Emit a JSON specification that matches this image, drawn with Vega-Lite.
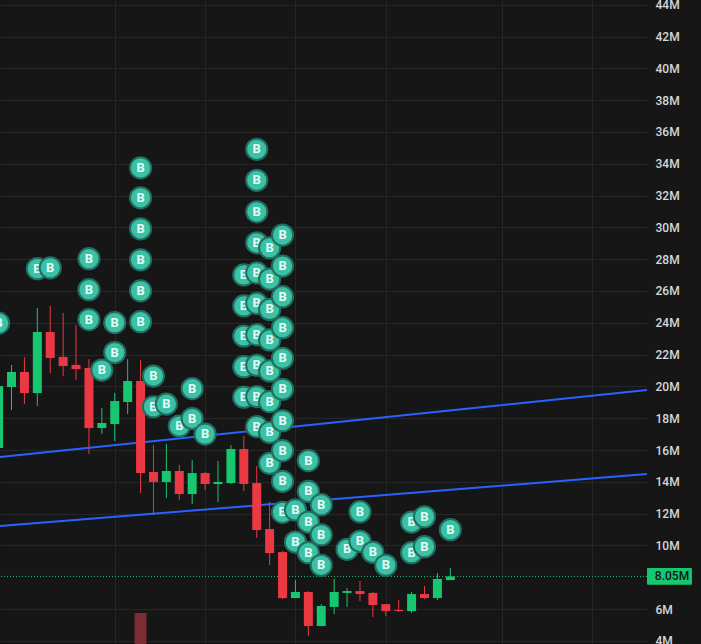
{"$schema":"https://vega.github.io/schema/vega-lite/v6.json","width":647,"height":644,"autosize":{"type":"none"},"padding":{"left":0,"top":0,"right":54,"bottom":0},"background":"#161616","view":{"stroke":null,"fill":"#161616"},"datasets":{"candles":[{"i":0,"o":16.13,"h":21.35,"l":16.0,"c":20.02},{"i":1,"o":19.96,"h":21.35,"l":18.51,"c":20.91},{"i":2,"o":20.91,"h":21.85,"l":18.89,"c":19.58},{"i":3,"o":19.58,"h":24.93,"l":18.77,"c":23.42},{"i":4,"o":23.42,"h":25.06,"l":20.84,"c":21.79},{"i":5,"o":21.85,"h":24.62,"l":20.65,"c":21.28},{"i":6,"o":21.35,"h":23.86,"l":20.4,"c":21.09},{"i":7,"o":21.16,"h":21.72,"l":15.75,"c":17.38},{"i":8,"o":17.38,"h":18.64,"l":17.01,"c":17.7},{"i":9,"o":17.63,"h":19.58,"l":16.57,"c":19.08},{"i":10,"o":19.02,"h":21.72,"l":18.26,"c":20.34},{"i":11,"o":20.34,"h":21.66,"l":13.3,"c":14.55},{"i":12,"o":14.62,"h":16.31,"l":11.91,"c":13.99},{"i":13,"o":13.99,"h":16.38,"l":12.98,"c":14.68},{"i":14,"o":14.68,"h":15.06,"l":12.86,"c":13.23},{"i":15,"o":13.23,"h":15.37,"l":12.6,"c":14.55},{"i":16,"o":14.55,"h":14.62,"l":13.48,"c":13.86},{"i":17,"o":13.86,"h":15.31,"l":12.73,"c":13.99},{"i":18,"o":13.92,"h":16.31,"l":13.86,"c":16.06},{"i":19,"o":16.06,"h":16.88,"l":13.42,"c":13.86},{"i":20,"o":13.92,"h":14.99,"l":10.47,"c":10.97},{"i":21,"o":11.03,"h":12.73,"l":8.77,"c":9.52},{"i":22,"o":9.58,"h":9.65,"l":6.63,"c":6.69},{"i":23,"o":6.69,"h":7.82,"l":6.69,"c":7.07},{"i":24,"o":7.07,"h":7.13,"l":4.3,"c":4.93},{"i":25,"o":4.93,"h":6.31,"l":4.93,"c":6.19},{"i":26,"o":6.13,"h":7.89,"l":5.69,"c":7.07},{"i":27,"o":7.01,"h":7.32,"l":6.13,"c":7.13},{"i":28,"o":7.13,"h":7.76,"l":6.5,"c":6.94},{"i":29,"o":7.01,"h":7.07,"l":5.5,"c":6.25},{"i":30,"o":6.31,"h":6.31,"l":5.56,"c":5.87},{"i":31,"o":5.94,"h":6.57,"l":5.81,"c":5.87},{"i":32,"o":5.87,"h":7.07,"l":5.75,"c":6.94},{"i":33,"o":6.94,"h":7.45,"l":6.63,"c":6.69},{"i":34,"o":6.69,"h":8.26,"l":6.57,"c":7.89},{"i":35,"o":7.82,"h":8.58,"l":7.82,"c":8.05}],"markers":[{"i":0,"p":23.98},{"i":3,"p":27.4},{"i":4,"p":27.46},{"i":7,"p":28.03},{"i":7,"p":26.08},{"i":7,"p":24.2},{"i":8,"p":21.03},{"i":9,"p":24.01},{"i":9,"p":22.13},{"i":11,"p":33.74},{"i":11,"p":31.86},{"i":11,"p":29.91},{"i":11,"p":27.96},{"i":11,"p":26.01},{"i":11,"p":24.07},{"i":12,"p":20.65},{"i":12,"p":18.72},{"i":13,"p":18.89},{"i":14,"p":17.51},{"i":15,"p":19.86},{"i":15,"p":17.98},{"i":16,"p":17.0},{"i":19,"p":27.01},{"i":19,"p":25.06},{"i":19,"p":23.17},{"i":19,"p":21.24},{"i":19,"p":19.32},{"i":20,"p":34.91},{"i":20,"p":32.96},{"i":20,"p":30.98},{"i":20,"p":29.03},{"i":20,"p":27.14},{"i":20,"p":25.22},{"i":20,"p":23.25},{"i":20,"p":21.33},{"i":20,"p":19.36},{"i":20,"p":17.47},{"i":21,"p":28.72},{"i":21,"p":26.75},{"i":21,"p":24.84},{"i":21,"p":22.92},{"i":21,"p":20.97},{"i":21,"p":19.04},{"i":21,"p":17.11},{"i":21,"p":15.16},{"i":22,"p":29.52},{"i":22,"p":27.57},{"i":22,"p":25.64},{"i":22,"p":23.69},{"i":22,"p":21.77},{"i":22,"p":19.82},{"i":22,"p":17.84},{"i":22,"p":15.96},{"i":22,"p":14.03},{"i":22,"p":12.08},{"i":23,"p":12.23},{"i":23,"p":10.21},{"i":24,"p":15.33},{"i":24,"p":13.4},{"i":24,"p":11.47},{"i":24,"p":9.54},{"i":25,"p":12.56},{"i":25,"p":10.67},{"i":25,"p":8.75},{"i":27,"p":9.75},{"i":28,"p":12.12},{"i":28,"p":10.26},{"i":29,"p":9.57},{"i":30,"p":8.75},{"i":32,"p":11.47},{"i":32,"p":9.54},{"i":33,"p":11.8},{"i":33,"p":9.92},{"i":35,"p":10.99}],"lines":[{"n":"a","i":0.108,"p":15.56},{"n":"a","i":50.24,"p":19.77},{"n":"b","i":0.108,"p":11.22},{"n":"b","i":50.24,"p":14.49}]},"layer":[{"data":{"values":[{"i":11,"low":3.8,"top":5.75}]},"mark":{"type":"bar","size":12,"color":"#7a2d32","clip":true},"encoding":{"x":{"field":"i","type":"quantitative","scale":{"domain":[0.108,50.24],"nice":false,"zero":false,"padding":0},"axis":{"values":[9,16,23,30,39,46],"tickCount":10,"grid":true,"gridColor":"#262626","gridWidth":1,"labels":false,"ticks":false,"domain":false,"title":null}},"y":{"field":"low","type":"quantitative","scale":{"domain":[3.8,44.3],"nice":false,"zero":false,"padding":0},"axis":{"orient":"right","values":[4,6,10,12,14,16,18,20,22,24,26,28,30,32,34,36,38,40,42,44],"tickCount":30,"labelExpr":"datum.value+'M'","grid":true,"gridColor":"#262626","gridWidth":1,"domain":false,"ticks":false,"labelPadding":8,"labelFont":"Roboto","labelFontSize":12,"labelFontWeight":500,"labelColor":"#d6d6d6","title":null,"labelBound":false,"labelFlush":false,"labelOverlap":false}},"y2":{"field":"top"}}},{"data":{"name":"lines"},"mark":{"type":"line","stroke":"#2962ff","strokeWidth":2},"encoding":{"x":{"field":"i","type":"quantitative"},"y":{"field":"p","type":"quantitative"},"detail":{"field":"n"}}},{"data":{"values":[{"p":8.05}]},"mark":{"type":"rule","stroke":"#16c770","strokeWidth":1,"strokeDash":[1,2]},"encoding":{"y":{"field":"p","type":"quantitative"}}},{"data":{"name":"candles"},"transform":[{"calculate":"datum.c>=datum.o?'up':'down'","as":"dir"}],"encoding":{"x":{"field":"i","type":"quantitative"},"color":{"field":"dir","type":"nominal","scale":{"domain":["up","down"],"range":["#16c770","#ea3943"]},"legend":null}},"layer":[{"mark":{"type":"rule","strokeWidth":1,"clip":true},"encoding":{"y":{"field":"l","type":"quantitative"},"y2":{"field":"h"}}},{"mark":{"type":"bar","size":9,"clip":true},"encoding":{"y":{"field":"o","type":"quantitative"},"y2":{"field":"c"}}}]},{"data":{"values":[{"a":50.24,"b":53.72,"low":7.52,"top":8.58}]},"mark":{"type":"rect","color":"#16c770","cornerRadius":1},"encoding":{"x":{"field":"a","type":"quantitative"},"x2":{"field":"b"},"y":{"field":"low","type":"quantitative"},"y2":{"field":"top"}}},{"data":{"values":[{"a":50.85,"p":8.05,"t":"8.05M"}]},"mark":{"type":"text","align":"left","baseline":"middle","font":"Roboto","fontSize":12,"fontWeight":500,"color":"#10151a"},"encoding":{"x":{"field":"a","type":"quantitative"},"y":{"field":"p","type":"quantitative"},"text":{"field":"t"}}},{"data":{"name":"markers"},"encoding":{"x":{"field":"i","type":"quantitative"},"y":{"field":"p","type":"quantitative"}},"layer":[{"transform":[{"filter":{"field":"i","oneOf":[3,11,19,27,35]}}],"layer":[{"mark":{"type":"point","filled":true,"shape":"circle","size":450,"fill":"#3bc2a6","stroke":"#216e5f","strokeWidth":2,"opacity":1,"clip":true}},{"mark":{"type":"text","text":"B","font":"Roboto","fontWeight":"bold","fontSize":13,"color":"#e6fbf5","clip":true}}]},{"transform":[{"filter":{"field":"i","oneOf":[4,12,20,28]}}],"layer":[{"mark":{"type":"point","filled":true,"shape":"circle","size":450,"fill":"#3bc2a6","stroke":"#216e5f","strokeWidth":2,"opacity":1,"clip":true}},{"mark":{"type":"text","text":"B","font":"Roboto","fontWeight":"bold","fontSize":13,"color":"#e6fbf5","clip":true}}]},{"transform":[{"filter":{"field":"i","oneOf":[13,21,29]}}],"layer":[{"mark":{"type":"point","filled":true,"shape":"circle","size":450,"fill":"#3bc2a6","stroke":"#216e5f","strokeWidth":2,"opacity":1,"clip":true}},{"mark":{"type":"text","text":"B","font":"Roboto","fontWeight":"bold","fontSize":13,"color":"#e6fbf5","clip":true}}]},{"transform":[{"filter":{"field":"i","oneOf":[14,22,30]}}],"layer":[{"mark":{"type":"point","filled":true,"shape":"circle","size":450,"fill":"#3bc2a6","stroke":"#216e5f","strokeWidth":2,"opacity":1,"clip":true}},{"mark":{"type":"text","text":"B","font":"Roboto","fontWeight":"bold","fontSize":13,"color":"#e6fbf5","clip":true}}]},{"transform":[{"filter":{"field":"i","oneOf":[7,15,23]}}],"layer":[{"mark":{"type":"point","filled":true,"shape":"circle","size":450,"fill":"#3bc2a6","stroke":"#216e5f","strokeWidth":2,"opacity":1,"clip":true}},{"mark":{"type":"text","text":"B","font":"Roboto","fontWeight":"bold","fontSize":13,"color":"#e6fbf5","clip":true}}]},{"transform":[{"filter":{"field":"i","oneOf":[0,8,16,24,32]}}],"layer":[{"mark":{"type":"point","filled":true,"shape":"circle","size":450,"fill":"#3bc2a6","stroke":"#216e5f","strokeWidth":2,"opacity":1,"clip":true}},{"mark":{"type":"text","text":"B","font":"Roboto","fontWeight":"bold","fontSize":13,"color":"#e6fbf5","clip":true}}]},{"transform":[{"filter":{"field":"i","oneOf":[9,25,33]}}],"layer":[{"mark":{"type":"point","filled":true,"shape":"circle","size":450,"fill":"#3bc2a6","stroke":"#216e5f","strokeWidth":2,"opacity":1,"clip":true}},{"mark":{"type":"text","text":"B","font":"Roboto","fontWeight":"bold","fontSize":13,"color":"#e6fbf5","clip":true}}]}]}],"resolve":{"scale":{"x":"shared","y":"shared"}},"config":{"axis":{"labelOverlap":false}}}
